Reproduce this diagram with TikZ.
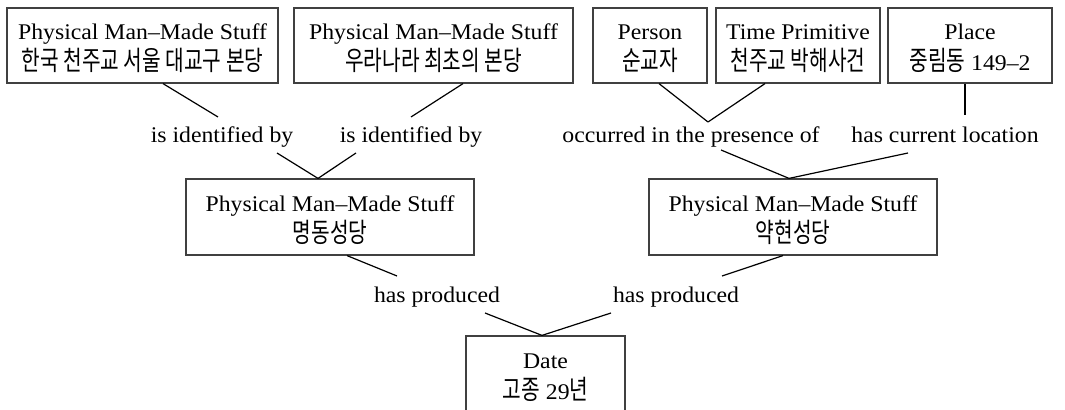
\documentclass[tikz,border=0pt]{standalone}
\usepackage{fontspec}
\setmainfont[FakeStretch=1.06]{Liberation Serif}
\newfontfamily\krfont[FakeStretch=0.75]{Noto Sans CJK KR}
\newcommand{\krtxt}[1]{{\krfont\fontsize{13.5}{15.5}\selectfont #1}}
\usetikzlibrary{calc}
\begin{document}
\begin{tikzpicture}[x=0.5pt,y=-0.5pt,
  box/.style={draw=black!75, line width=0.6pt, rectangle, inner sep=0pt, minimum height=37.5pt, text height=31.5pt, text depth=6pt, align=center, font=\fontsize{11.2}{15.5}\selectfont},
  lbl/.style={inner sep=0pt, text height=8pt, text depth=2.5pt, font=\fontsize{11.2}{13}\selectfont},
  conn/.style={draw=black, line width=0.6pt}]
\useasboundingbox (0,0) rectangle (1065,410);
\fill[white] (0,0) rectangle (1065,410);
% top boxes
\node[box, minimum width=135.5pt] (A) at (142.5,45.5) {Physical Man–Made Stuff\\\krtxt{한국 천주교 서울 대교구 본당}};
\node[box, minimum width=139.5pt] (B) at (433.5,45.5) {Physical Man–Made Stuff\\\krtxt{우라나라 최초의 본당}};
\node[box, minimum width=57pt] (C) at (650,45.5) {Person\\\krtxt{순교자}};
\node[box, minimum width=82pt] (D) at (798,45.5) {Time Primitive\\\krtxt{천주교 박해사건}};
\node[box, minimum width=82pt] (E) at (970,45.5) {Place\\\krtxt{중림동} 149–2};
% middle boxes
\node[box, minimum width=144pt, minimum height=38pt] (F) at (330,217) {Physical Man–Made Stuff\\\krtxt{명동성당}};
\node[box, minimum width=144pt, minimum height=38pt] (G) at (793,217) {Physical Man–Made Stuff\\\krtxt{약현성당}};
% bottom box
\node[box, minimum width=79.5pt, minimum height=38pt] (H) at (545.5,374) {Date\\\krtxt{고종} 29\krtxt{년}};
% labels
\node[lbl] (l1) at (222,137) {is identified by};
\node[lbl] (l2) at (411,137) {is identified by};
\node[lbl] (l3) at (691,137) {occurred in the presence of};
\node[lbl] (l4) at (945,137) {has current location};
\node[lbl] (l5) at (437,297) {has produced};
\node[lbl] (l6) at (676,297) {has produced};
% connectors
\draw[conn] ([shift={(20.5,0)}]A.south) -- ([shift={(-4,-20)}]l1.center);
\draw[conn] ([shift={(29.5,0)}]B.south) -- ([shift={(0,-20)}]l2.center);
\draw[conn] ([shift={(55,16)}]l1.center) -- ([shift={(-12,0)}]F.north);
\draw[conn] ([shift={(-55,16)}]l2.center) -- ([shift={(-12,0)}]F.north);
\draw[conn] ([shift={(9,0)}]C.south) -- ([shift={(17,-15)}]l3.center);
\draw[conn] ([shift={(-33,0)}]D.south) -- ([shift={(17,-15)}]l3.center);
\draw[conn] ([shift={(-5,0)}]E.south) -- ([shift={(20,-22)}]l4.center);
\draw[conn] ([shift={(30,13)}]l3.center) -- ([shift={(-4,0)}]G.north);
\draw[conn] ([shift={(-37,16)}]l4.center) -- ([shift={(-4,0)}]G.north);
\draw[conn] ([shift={(17,0)}]F.south) -- ([shift={(-40,-21)}]l5.center);
\draw[conn] ([shift={(-10,0)}]G.south) -- ([shift={(46,-21)}]l6.center);
\draw[conn] ([shift={(48,16)}]l5.center) -- ([shift={(-3.5,0)}]H.north);
\draw[conn] ([shift={(-65,16)}]l6.center) -- ([shift={(-3.5,0)}]H.north);
\end{tikzpicture}
\end{document}
